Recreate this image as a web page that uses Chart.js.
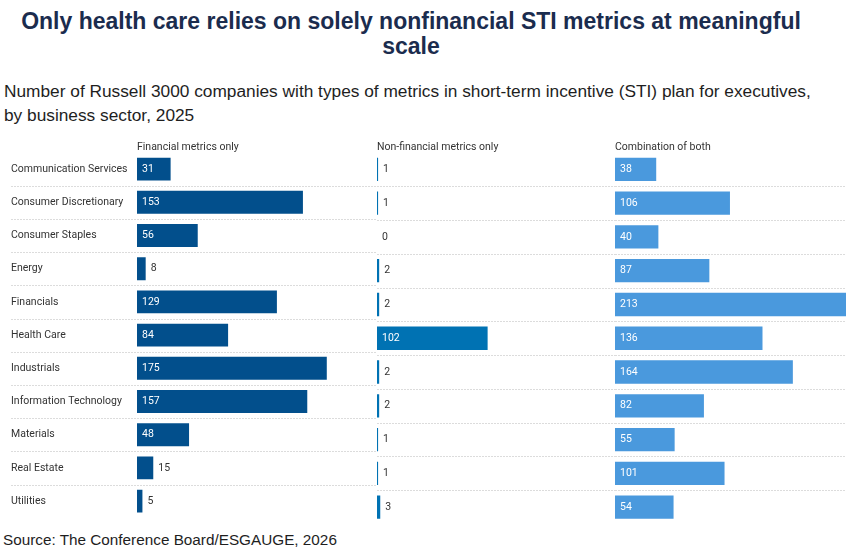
<!DOCTYPE html>
<html>
<head>
<meta charset="utf-8">
<script src="https://cdn.jsdelivr.net/npm/chart.js@4.4.1/dist/chart.umd.min.js"></script>
<style>
  html, body { margin: 0; padding: 0; background: #fff; }
  body { width: 860px; height: 552px; position: relative; overflow: hidden; font-family: "Liberation Sans", Arial, sans-serif; }
  #title { position: absolute; left: 0; top: 9px; width: 822px; text-align: center; font-weight: bold; font-size: 23px; line-height: 25px; color: #1b2c4e; }
  #subtitle { position: absolute; left: 4px; top: 79px; font-size: 17.3px; line-height: 24px; color: #1e1e1e; }
  #source { position: absolute; left: 3px; top: 531px; font-size: 15.3px; line-height: 18px; color: #1e1e1e; }
  .panel { position: absolute; top: 140px; height: 384px; }
</style>
</head>
<body>
<div id="title">Only health care relies on solely nonfinancial STI metrics at meaningful<br>scale</div>
<div id="subtitle">Number of Russell 3000 companies with types of metrics in short-term incentive (STI) plan for executives,<br>by business sector, 2025</div>
<div class="panel" style="left:0;width:377px"><canvas id="c1"></canvas></div>
<div class="panel" style="left:377px;width:238px"><canvas id="c2"></canvas></div>
<div class="panel" style="left:615px;width:245px"><canvas id="c3"></canvas></div>
<div id="source">Source: The Conference Board/ESGAUGE, 2026</div>
<script>
const sectors = [
  'Communication Services', 'Consumer Discretionary', 'Consumer Staples', 'Energy',
  'Financials', 'Health Care', 'Industrials', 'Information Technology',
  'Materials', 'Real Estate', 'Utilities'
]
const financialOnly = [31, 153, 56, 8, 129, 84, 175, 157, 48, 15, 5]
const nonFinancialOnly = [1, 1, 0, 2, 2, 102, 2, 2, 1, 1, 3]
const combination = [38, 106, 40, 87, 213, 136, 164, 82, 55, 101, 54]

const FONT = 'Roboto, "Noto Sans", sans-serif'
const xMax = 213

// dotted separators between rows, running across the label column and panel gaps
const rowLines = {
  id: 'rowLines',
  beforeDatasetsDraw(chart, args, opts) {
    const y = chart.scales.y
    const ctx = chart.ctx
    const left = opts.left != null ? opts.left : 0
    const right = opts.toEdge ? chart.width : chart.chartArea.right
    ctx.save()
    ctx.strokeStyle = '#dcdcdc'
    ctx.lineWidth = 1
    ctx.setLineDash([2, 1])
    for (let i = 0; i < sectors.length - 1; i++) {
      const py = Math.round((y.getPixelForValue(i) + y.getPixelForValue(i + 1)) / 2) + 0.5
      ctx.beginPath()
      ctx.moveTo(left, py)
      ctx.lineTo(right, py)
      ctx.stroke()
    }
    ctx.restore()
  }
}

// value labels: white inside the bar when it fits, dark just past the end otherwise
const barValues = {
  id: 'barValues',
  afterDatasetsDraw(chart) {
    const ctx = chart.ctx
    const meta = chart.getDatasetMeta(0)
    const values = chart.data.datasets[0].data
    ctx.save()
    ctx.font = '10.5px ' + FONT
    ctx.textBaseline = 'middle'
    ctx.textAlign = 'left'
    meta.data.forEach((bar, i) => {
      const text = String(values[i])
      const w = bar.x - bar.base
      const tw = ctx.measureText(text).width
      if (w >= tw + 10) {
        ctx.fillStyle = '#ffffff'
        ctx.fillText(text, bar.base + 5, bar.y)
      } else {
        ctx.fillStyle = '#333333'
        ctx.fillText(text, bar.x + 5, bar.y)
      }
    })
    ctx.restore()
  }
}

function makePanel(id, header, values, color, opts) {
  const yAxis = {
    display: opts.showLabels,
    grid: { display: false },
    border: { display: false },
    ticks: {
      crossAlign: 'far',
      padding: 0,
      color: '#333333',
      font: { family: FONT, size: 10.5 }
    }
  }
  if (opts.showLabels) yAxis.afterFit = (scale) => { scale.width = 126 }

  return new Chart(document.getElementById(id), {
    type: 'bar',
    data: {
      labels: sectors,
      datasets: [{
        data: values,
        backgroundColor: color,
        barPercentage: 0.69,
        categoryPercentage: 1,
      }]
    },
    options: {
      indexAxis: 'y',
      responsive: true,
      maintainAspectRatio: false,
      animation: false,
      layout: { padding: { left: opts.padLeft, right: opts.padRight, top: 0, bottom: 0 } },
      scales: {
        x: { display: false, min: 0, max: xMax },
        y: yAxis
      },
      plugins: {
        legend: { display: false },
        tooltip: { enabled: false },
        title: {
          display: true,
          text: header,
          align: 'start',
          fullSize: false,
          color: '#333333',
          font: { family: FONT, size: 10.5, weight: 'normal', lineHeight: 1 },
          padding: { top: 2, bottom: 0 }
        },
        rowLines: { left: opts.lineLeft, toEdge: opts.toEdge }
      }
    },
    plugins: [rowLines, barValues]
  })
}

makePanel('c1', 'Financial metrics only', financialOnly, '#024f8c',
  { padLeft: 11, padRight: 9, showLabels: true, lineLeft: 11, toEdge: true })
makePanel('c2', 'Non-financial metrics only', nonFinancialOnly, '#0072b3',
  { padLeft: 0, padRight: 7, showLabels: false, lineLeft: 0, toEdge: true })
makePanel('c3', 'Combination of both', combination, '#4a99dd',
  { padLeft: 0, padRight: 14, showLabels: false, lineLeft: 0, toEdge: false })
</script>
</body>
</html>
